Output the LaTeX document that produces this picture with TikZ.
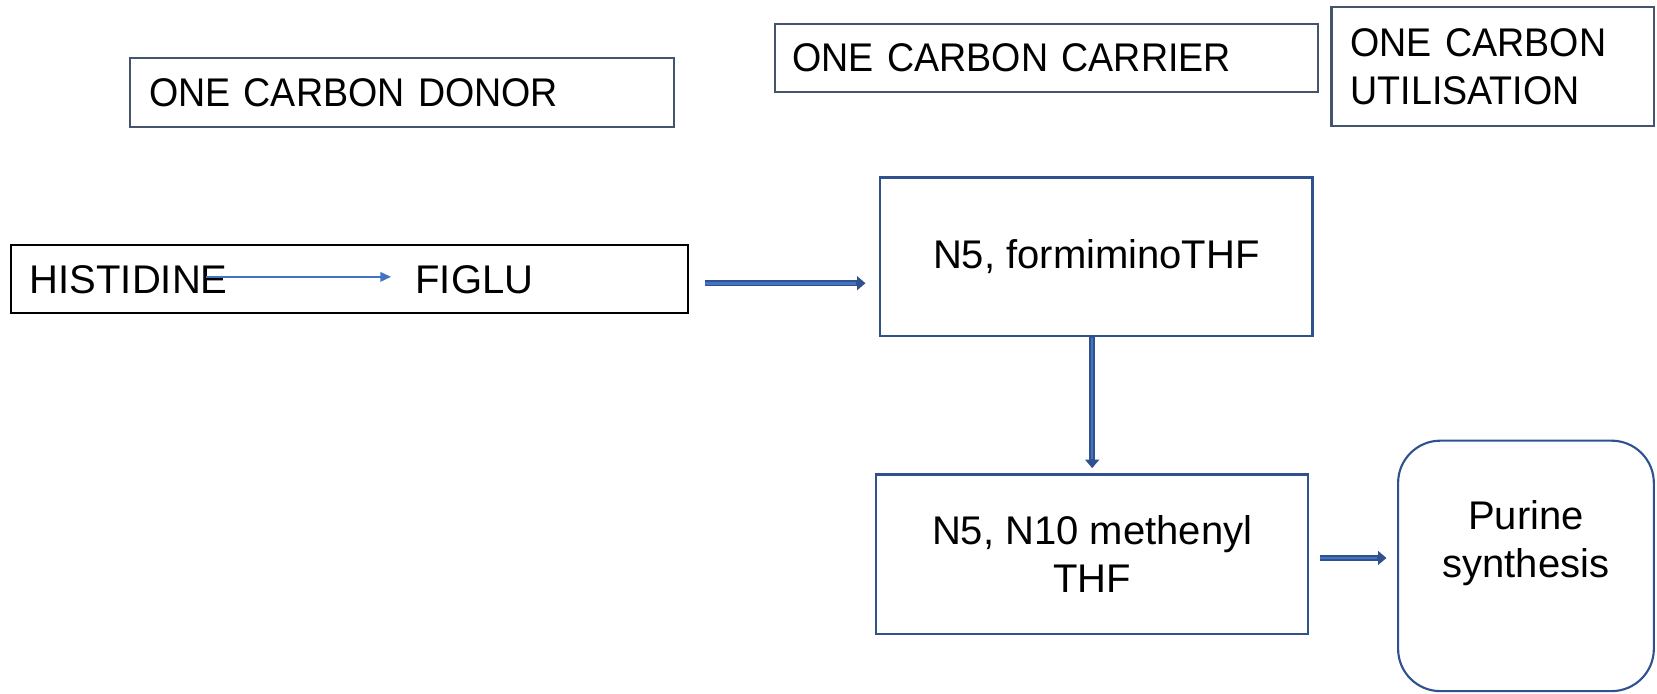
\documentclass[tikz,border=0pt]{standalone}
\usepackage{fontspec}
\setmainfont{Liberation Sans}
\newfontfamily\hdrfont{Liberation Sans}[FakeStretch=0.94]
\usetikzlibrary{arrows.meta,calc}
\definecolor{slate}{HTML}{44546A}
\definecolor{bdark}{HTML}{2F528F}
\definecolor{blight}{HTML}{4472C4}
\begin{document}
\begin{tikzpicture}[x=1bp,y=-1bp,
  font=\fontsize{38}{46}\selectfont,
  hdr/.style={draw=slate, line width=2bp, inner ysep=0pt, align=left, anchor=center,
    font=\hdrfont\fontsize{38}{46}\selectfont},
  bluebox/.style={draw=bdark, line width=2bp, align=center, anchor=center, inner sep=0pt},
  plain/.style={inner sep=0pt},
  thinarrow/.style={draw=blight, line width=1.5bp, -{Triangle[length=10bp,width=9bp]}},
  dbl/.style={draw=bdark, line width=6bp, -{Triangle[length=8bp,width=13bp]},
    postaction={draw=blight, line width=2.5bp, -, shorten >=9bp, shorten <=0.5bp}}
]
\useasboundingbox (0,0) rectangle (1568,656);
% headers
\node[hdr, inner xsep=18bp, text width=479bp, minimum height=65bp] (donor) at (380.5,87.5) {ONE CARBON DONOR};
\node[hdr, inner xsep=17bp, text width=480bp, minimum height=64bp] (carrier) at (990,55) {ONE CARBON CARRIER};
\node[hdr, inner xsep=18bp, text width=269bp, minimum height=112bp] (util) at (1412.5,63) {ONE CARBON\\UTILISATION};
% histidine row
\node[draw=black, line width=2bp, minimum width=641bp, minimum height=64bp, inner sep=0pt] (hbox) at (330.5,264) {};
\node[plain, anchor=west] (his) at (28,265) {HISTIDINE};
\node[plain, anchor=west] (figlu) at (393,265) {FIGLU};
\draw[thinarrow] ([xshift=-21bp,yshift=3bp]his.east) -- ([xshift=-23bp,yshift=3bp]figlu.west);
% carrier boxes
\node[bluebox, minimum width=409bp, minimum height=150bp] (form) at (1037.5,243) {N5, formiminoTHF};
\node[bluebox, minimum width=409bp, minimum height=151bp] (meth) at (1033.5,524.5) {N5, N10 methenyl\\THF};
\node[bluebox, rounded corners=40bp, minimum width=242bp, minimum height=237bp] (pur) at (1444,535.5) {};
\node[plain, align=center] (purtxt) at (1444,514) {Purine\\synthesis};
% arrows
\coordinate (a1s) at ($(hbox.east)+(15,4)$);
\coordinate (a1e) at ($(form.west)+(-13,0)$);
\draw[dbl] (a1s) -- (a1s -| a1e);
\coordinate (a2s) at (meth.north |- form.south);
\coordinate (a2e) at ($(meth.north)+(0,-5)$);
\draw[dbl] (a2s) -- (a2e);
\coordinate (a3s) at ($(meth.east)+(10,3.5)$);
\coordinate (a3e) at ($(pur.west)+(-10,0)$);
\draw[dbl] (a3s) -- (a3s -| a3e);
\end{tikzpicture}
\end{document}
